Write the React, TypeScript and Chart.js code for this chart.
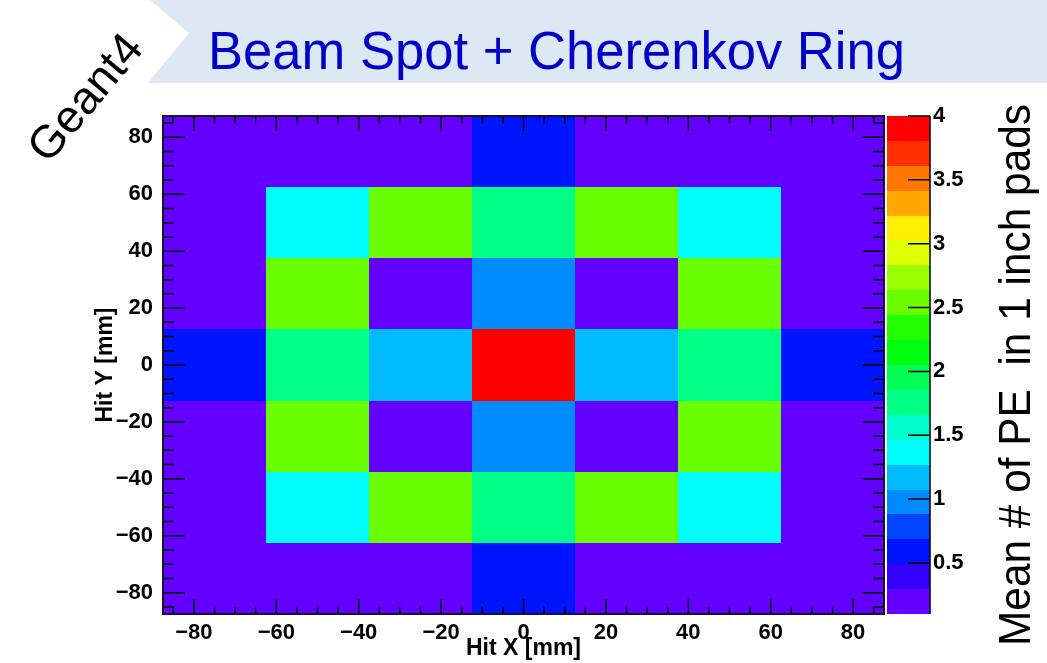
import React, { useEffect, useRef } from 'react';
import { Chart, registerables } from 'chart.js';

Chart.register(...registerables);

// ---- Data ----
const xBinEdges = [-87.5, -62.5, -37.5, -12.5, 12.5, 37.5, 62.5, 87.5];
const yBinEdges = [87.5, 62.5, 37.5, 12.5, -12.5, -37.5, -62.5, -87.5]; // top to bottom

const rowY75 = [0.15, 0.15, 0.15, 0.6, 0.15, 0.15, 0.15];
const rowY50 = [0.15, 1.4, 2.55, 1.75, 2.55, 1.4, 0.15];
const rowY25 = [0.15, 2.55, 0.15, 1.0, 0.15, 2.55, 0.15];
const rowY0 = [0.6, 1.75, 1.2, 4.0, 1.2, 1.75, 0.6];
const rowYm25 = [0.15, 2.55, 0.15, 1.0, 0.15, 2.55, 0.15];
const rowYm50 = [0.15, 1.4, 2.55, 1.75, 2.55, 1.4, 0.15];
const rowYm75 = [0.15, 0.15, 0.15, 0.6, 0.15, 0.15, 0.15];
const rows = [rowY75, rowY50, rowY25, rowY0, rowYm25, rowYm50, rowYm75];

const zMin = 0.1;
const zMax = 4;
const nContours = 20;

const chartTitle = 'Beam Spot + Cherenkov Ring';
const cornerLabel = 'Geant4';
const sideLabel = 'Mean # of PE  in 1 inch pads';
const xTitle = 'Hit X [mm]';
const yTitle = 'Hit Y [mm]';

const FONT = '"Liberation Sans", Arial, Helvetica, sans-serif';

// ---- ROOT "pretty" palette (violet -> red) ----
function hlsToRgb(h: number, l: number, s: number): number[] {
  const rm2 = l <= 0.5 ? l * (1 + s) : l + s - l * s;
  const rm1 = 2 * l - rm2;
  const hv = (hueIn: number) => {
    let hue = hueIn;
    if (hue > 360) hue -= 360;
    if (hue < 0) hue += 360;
    if (hue < 60) return rm1 + (rm2 - rm1) * hue / 60;
    if (hue < 180) return rm2;
    if (hue < 240) return rm1 + (rm2 - rm1) * (240 - hue) / 60;
    return rm1;
  };
  return [hv(h + 120), hv(h), hv(h - 120)];
}
const palette: string[] = [];
for (let i = 0; i < 49; i++) {
  const hue = 280 - (i + 1) * (280 / 50);
  const [r, g, b] = hlsToRgb(hue, 0.5, 1);
  palette.push(`rgb(${Math.round(r * 255)},${Math.round(g * 255)},${Math.round(b * 255)})`);
}
palette.push('rgb(255,0,0)');

function levelColor(k: number): string {
  const idx = Math.floor((k + 0.99) * palette.length / nContours);
  return palette[Math.min(palette.length - 1, idx)];
}
function valueColor(v: number): string {
  let k = Math.floor((v - zMin) / (zMax - zMin) * nContours);
  k = Math.max(0, Math.min(nContours - 1, k));
  return levelColor(k);
}

type Cell = { x: number; y: number; v: number; x0: number; x1: number; y0: number; y1: number };
const cells: Cell[] = [];
rows.forEach((row, r) => {
  row.forEach((v, c) => {
    cells.push({
      x: (xBinEdges[c] + xBinEdges[c + 1]) / 2,
      y: (yBinEdges[r] + yBinEdges[r + 1]) / 2,
      v,
      x0: xBinEdges[c], x1: xBinEdges[c + 1],
      y0: yBinEdges[r + 1], y1: yBinEdges[r],
    });
  });
});

const fmt = (v: any) => {
  const n = Number(v);
  return n < 0 ? '\u2212' + Math.abs(n) : String(n);
};

const heatPlugin = {
  id: 'heatPlugin',
  beforeDraw(chart: any) {
    const ctx = chart.ctx as CanvasRenderingContext2D;
    ctx.save();
    ctx.fillStyle = '#ffffff';
    ctx.fillRect(0, 0, chart.width, chart.height);
    // banner
    ctx.fillStyle = '#dde8f5';
    ctx.beginPath();
    ctx.moveTo(150, 0);
    ctx.lineTo(189, 33);
    ctx.lineTo(148, 83);
    ctx.lineTo(chart.width, 83);
    ctx.lineTo(chart.width, 0);
    ctx.closePath();
    ctx.fill();
    // title
    ctx.fillStyle = '#0000c8';
    ctx.font = `54px ${FONT}`;
    ctx.textAlign = 'left';
    ctx.textBaseline = 'alphabetic';
    ctx.fillText(chartTitle, 208, 69, 697);
    // Geant4
    ctx.save();
    ctx.translate(87, 99);
    ctx.rotate(-50 * Math.PI / 180);
    ctx.fillStyle = '#000';
    ctx.font = `46px ${FONT}`;
    ctx.textAlign = 'center';
    ctx.textBaseline = 'middle';
    ctx.fillText(cornerLabel, 0, 0);
    ctx.restore();
    // side label
    ctx.save();
    ctx.translate(1030, 646);
    ctx.rotate(-Math.PI / 2);
    ctx.fillStyle = '#000';
    ctx.font = `44px ${FONT}`;
    ctx.textAlign = 'left';
    ctx.textBaseline = 'alphabetic';
    ctx.fillText(sideLabel, 0, 0, 542);
    ctx.restore();
    ctx.restore();
  },
  beforeDatasetsDraw(chart: any) {
    const ctx = chart.ctx as CanvasRenderingContext2D;
    const xs = chart.scales.x;
    const ys = chart.scales.y;
    const zs = chart.scales.z;
    const area = chart.chartArea;
    ctx.save();
    const data = chart.data.datasets[0].data as Cell[];
    data.forEach((c) => {
      const px0 = Math.round(xs.getPixelForValue(c.x0));
      const px1 = Math.round(xs.getPixelForValue(c.x1));
      const py0 = Math.round(ys.getPixelForValue(c.y1));
      const py1 = Math.round(ys.getPixelForValue(c.y0));
      ctx.fillStyle = valueColor(c.v);
      ctx.fillRect(px0, py0, px1 - px0, py1 - py0);
    });
    // color bar
    const cbL = area.right + 3;
    const cbR = area.right + 46;
    const dz = (zMax - zMin) / nContours;
    for (let k = 0; k < nContours; k++) {
      const pTop = Math.round(zs.getPixelForValue(zMin + (k + 1) * dz));
      const pBot = Math.round(zs.getPixelForValue(zMin + k * dz));
      ctx.fillStyle = levelColor(k);
      ctx.fillRect(cbL, pTop, cbR - cbL, pBot - pTop);
    }
    ctx.strokeStyle = '#000';
    ctx.lineWidth = 1.5;
    ctx.beginPath();
    ctx.moveTo(cbR, zs.getPixelForValue(zMax));
    ctx.lineTo(cbR, zs.getPixelForValue(zMin));
    zs.ticks.forEach((t: any) => {
      const py = zs.getPixelForValue(t.value);
      ctx.moveTo(cbR, py);
      ctx.lineTo(cbR - 22, py);
    });
    ctx.stroke();
    ctx.restore();
  },
  afterDatasetsDraw(chart: any) {
    const ctx = chart.ctx as CanvasRenderingContext2D;
    const xs = chart.scales.x;
    const ys = chart.scales.y;
    const { left, right, top, bottom } = chart.chartArea;
    const xLen = 0.03 * (bottom - top);
    const yLen = 0.03 * (right - left);
    ctx.save();
    ctx.strokeStyle = '#000';
    ctx.lineWidth = 1.5;
    ctx.beginPath();
    for (let v = -85; v <= 85; v += 5) {
      const major = v % 20 === 0;
      const px = xs.getPixelForValue(v);
      const L = major ? xLen : xLen / 2;
      ctx.moveTo(px, bottom);
      ctx.lineTo(px, bottom - L);
      ctx.moveTo(px, top);
      ctx.lineTo(px, top + L);
      const py = ys.getPixelForValue(v);
      const M = major ? yLen : yLen / 2;
      ctx.moveTo(left, py);
      ctx.lineTo(left + M, py);
      ctx.moveTo(right, py);
      ctx.lineTo(right - M, py);
    }
    ctx.stroke();
    ctx.lineWidth = 2;
    ctx.strokeStyle = '#1a1030';
    ctx.strokeRect(left, top, right - left, bottom - top);
    ctx.restore();
  },
};

const tickFont = { family: FONT, size: 22, weight: 'bold' as const };
const titleFont = { family: FONT, size: 23, weight: 'bold' as const, lineHeight: 1.2 };

const noPad = (s: any) => {
  s.paddingTop = 0;
  s.paddingBottom = 0;
  s.paddingLeft = 0;
  s.paddingRight = 0;
};

export default function App() {
  const ref = useRef<HTMLCanvasElement>(null);
  useEffect(() => {
    if (!ref.current) return;
    const chart = new Chart(ref.current, {
      type: 'scatter',
      data: {
        datasets: [{
          label: 'Mean PE',
          data: cells as any,
          pointRadius: 0,
          pointHoverRadius: 0,
          showLine: false,
        }],
      },
      options: {
        animation: false,
        responsive: false,
        devicePixelRatio: 1,
        layout: { padding: { top: 116, left: 0, right: 0, bottom: 0 } },
        plugins: {
          legend: { display: false },
          tooltip: { enabled: false },
          title: { display: false },
        },
        scales: {
          x: {
            type: 'linear',
            position: 'bottom',
            min: -87.5,
            max: 87.5,
            grid: { display: false, drawTicks: false },
            border: { display: false },
            ticks: {
              stepSize: 20,
              includeBounds: false,
              autoSkip: false,
              maxRotation: 0,
              padding: 6,
              color: '#000',
              font: tickFont,
              callback: fmt,
            },
            title: {
              display: true,
              text: xTitle,
              color: '#000',
              font: titleFont,
              padding: { top: 0, bottom: 1 },
            },
            afterFit: (s: any) => { s.height = 49; noPad(s); },
          },
          y: {
            type: 'linear',
            position: 'left',
            min: -87.5,
            max: 87.5,
            grid: { display: false, drawTicks: false },
            border: { display: false },
            ticks: {
              stepSize: 20,
              includeBounds: false,
              autoSkip: false,
              padding: 10,
              color: '#000',
              font: tickFont,
              callback: fmt,
            },
            title: {
              display: true,
              text: yTitle,
              color: '#000',
              font: titleFont,
              padding: { top: 92, bottom: 0 },
            },
            afterFit: (s: any) => { s.width = 163; noPad(s); },
          },
          z: {
            type: 'linear',
            axis: 'y',
            position: 'right',
            min: zMin,
            max: zMax,
            grid: { display: false, drawTicks: false },
            border: { display: false },
            ticks: {
              stepSize: 0.5,
              includeBounds: false,
              autoSkip: false,
              padding: 49,
              color: '#000',
              font: tickFont,
              callback: (v: any) => String(Number(v)),
            },
            afterFit: (s: any) => { s.width = 163; noPad(s); },
          },
        },
      } as any,
      plugins: [heatPlugin],
    });
    return () => chart.destroy();
  }, []);
  return (
    <div style={{ position: 'fixed', left: 0, top: 0, width: 1047, height: 663, background: '#fff' }}>
      <canvas ref={ref} width={1047} height={663} style={{ display: 'block', width: 1047, height: 663 }} />
    </div>
  );
}
